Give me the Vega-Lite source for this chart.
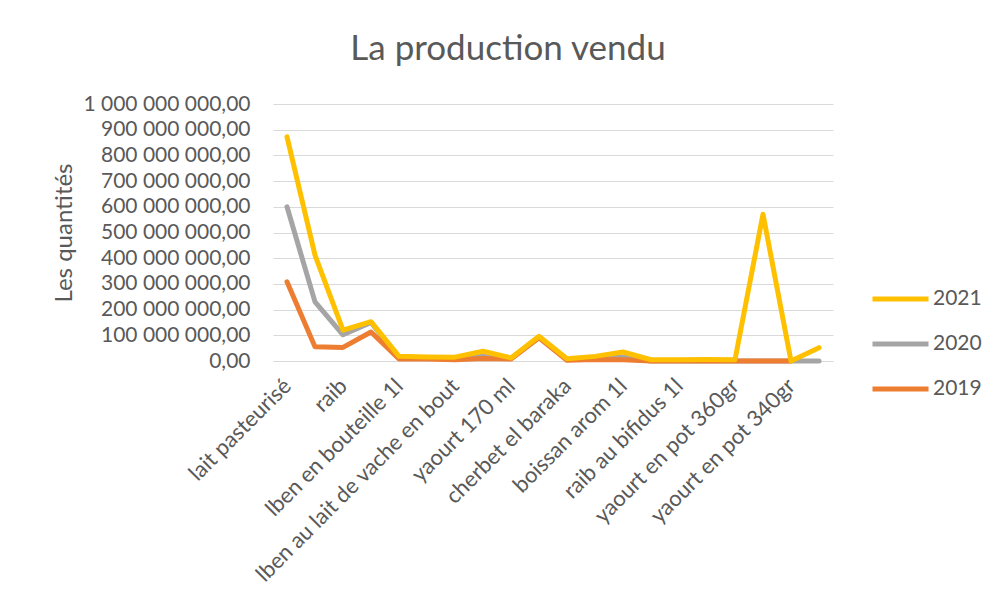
{
  "$schema": "https://vega.github.io/schema/vega-lite/v6.json",
  "width": 560,
  "height": 257,
  "autosize": {"type": "none"},
  "padding": {"left": 273, "top": 104, "right": 163, "bottom": 249},
  "background": "white",
  "title": {"text": "La production vendu", "fontSize": 35, "font": "Lato", "fontWeight": "normal", "color": "#595959", "anchor": "middle", "dx": -45, "offset": 26},
  "data": {"values": [
    {"rang": 1, "annee": "2020", "quantite": 600000000},
    {"rang": 2, "annee": "2020", "quantite": 230000000},
    {"rang": 3, "annee": "2020", "quantite": 102000000},
    {"rang": 4, "annee": "2020", "quantite": 150000000},
    {"rang": 5, "annee": "2020", "quantite": 12000000},
    {"rang": 6, "annee": "2020", "quantite": 12000000},
    {"rang": 7, "annee": "2020", "quantite": 10000000},
    {"rang": 8, "annee": "2020", "quantite": 20000000},
    {"rang": 9, "annee": "2020", "quantite": 10000000},
    {"rang": 10, "annee": "2020", "quantite": 92000000},
    {"rang": 11, "annee": "2020", "quantite": 5000000},
    {"rang": 12, "annee": "2020", "quantite": 12000000},
    {"rang": 13, "annee": "2020", "quantite": 16000000},
    {"rang": 14, "annee": "2020", "quantite": 0},
    {"rang": 15, "annee": "2020", "quantite": 0},
    {"rang": 16, "annee": "2020", "quantite": 0},
    {"rang": 17, "annee": "2020", "quantite": 0},
    {"rang": 18, "annee": "2020", "quantite": 0},
    {"rang": 19, "annee": "2020", "quantite": 0},
    {"rang": 20, "annee": "2020", "quantite": 0},
    {"rang": 1, "annee": "2019", "quantite": 308000000},
    {"rang": 2, "annee": "2019", "quantite": 55000000},
    {"rang": 3, "annee": "2019", "quantite": 53000000},
    {"rang": 4, "annee": "2019", "quantite": 113000000},
    {"rang": 5, "annee": "2019", "quantite": 8000000},
    {"rang": 6, "annee": "2019", "quantite": 8000000},
    {"rang": 7, "annee": "2019", "quantite": 5000000},
    {"rang": 8, "annee": "2019", "quantite": 10000000},
    {"rang": 9, "annee": "2019", "quantite": 8000000},
    {"rang": 10, "annee": "2019", "quantite": 90000000},
    {"rang": 11, "annee": "2019", "quantite": 3000000},
    {"rang": 12, "annee": "2019", "quantite": 6000000},
    {"rang": 13, "annee": "2019", "quantite": 5000000},
    {"rang": 14, "annee": "2019", "quantite": 0},
    {"rang": 15, "annee": "2019", "quantite": 0},
    {"rang": 16, "annee": "2019", "quantite": 0},
    {"rang": 17, "annee": "2019", "quantite": 0},
    {"rang": 18, "annee": "2019", "quantite": 0},
    {"rang": 19, "annee": "2019", "quantite": 0},
    {"rang": 1, "annee": "2021", "quantite": 872000000},
    {"rang": 2, "annee": "2021", "quantite": 412000000},
    {"rang": 3, "annee": "2021", "quantite": 120000000},
    {"rang": 4, "annee": "2021", "quantite": 153000000},
    {"rang": 5, "annee": "2021", "quantite": 18000000},
    {"rang": 6, "annee": "2021", "quantite": 16000000},
    {"rang": 7, "annee": "2021", "quantite": 15000000},
    {"rang": 8, "annee": "2021", "quantite": 38000000},
    {"rang": 9, "annee": "2021", "quantite": 12000000},
    {"rang": 10, "annee": "2021", "quantite": 96000000},
    {"rang": 11, "annee": "2021", "quantite": 9000000},
    {"rang": 12, "annee": "2021", "quantite": 18000000},
    {"rang": 13, "annee": "2021", "quantite": 35000000},
    {"rang": 14, "annee": "2021", "quantite": 5000000},
    {"rang": 15, "annee": "2021", "quantite": 5000000},
    {"rang": 16, "annee": "2021", "quantite": 6000000},
    {"rang": 17, "annee": "2021", "quantite": 5000000},
    {"rang": 18, "annee": "2021", "quantite": 571000000},
    {"rang": 19, "annee": "2021", "quantite": 0},
    {"rang": 20, "annee": "2021", "quantite": 52000000}
  ]},
  "mark": {"type": "line", "strokeWidth": 5, "strokeCap": "round", "strokeJoin": "round"},
  "encoding": {
    "x": {
      "field": "rang", "type": "ordinal",
      "scale": {"type": "point", "padding": 0.5},
      "axis": {
        "title": null, "ticks": false, "grid": false, "domain": true, "domainColor": "#d9d9d9", "domainWidth": 1,
        "labelAngle": -45, "labelAlign": "right", "labelBaseline": "middle", "labelPadding": 21, "labelLimit": 500,
        "labelFont": "Lato", "labelFontSize": 22, "labelColor": "#595959", "labelOverlap": false,
        "labelExpr": "['lait pasteurisé','','raib','','lben en bouteille 1l','','lben au lait de vache en bout','','yaourt 170 ml','','cherbet el baraka','','boissan arom 1l','','raib au bifidus 1l','','yaourt en pot 360gr','','yaourt en pot 340gr',''][datum.value-1]"
      }
    },
    "y": {
      "field": "quantite", "type": "quantitative",
      "scale": {"domain": [0, 1000000000], "nice": false},
      "axis": {
        "values": [0, 100000000, 200000000, 300000000, 400000000, 500000000, 600000000, 700000000, 800000000, 900000000, 1000000000],
        "format": ",.2f", "ticks": false, "domain": false, "grid": true, "gridColor": "#d9d9d9", "gridWidth": 1,
        "labelFont": "Lato", "labelFontSize": 21, "labelColor": "#595959", "labelPadding": 23,
        "title": "Les quantités", "titleFont": "Lato", "titleFontSize": 24, "titleFontWeight": "normal", "titleColor": "#595959", "titlePadding": 6
      }
    },
    "color": {
      "field": "annee", "type": "nominal",
      "scale": {"domain": ["2021", "2020", "2019"], "range": ["#FFC000", "#A5A5A5", "#ED7D31"]},
      "legend": {
        "title": null, "orient": "none", "legendX": 597, "legendY": 183,
        "symbolType": "stroke", "symbolSize": 3136, "symbolStrokeWidth": 5, "clipHeight": 24, "rowPadding": 21,
        "labelFont": "Lato", "labelFontSize": 21, "labelColor": "#595959", "labelOffset": 2
      }
    }
  },
  "config": {
    "view": {"stroke": null},
    "locale": {"number": {"decimal": ",", "thousands": " ", "grouping": [3], "currency": ["", " €"]}}
  }
}
